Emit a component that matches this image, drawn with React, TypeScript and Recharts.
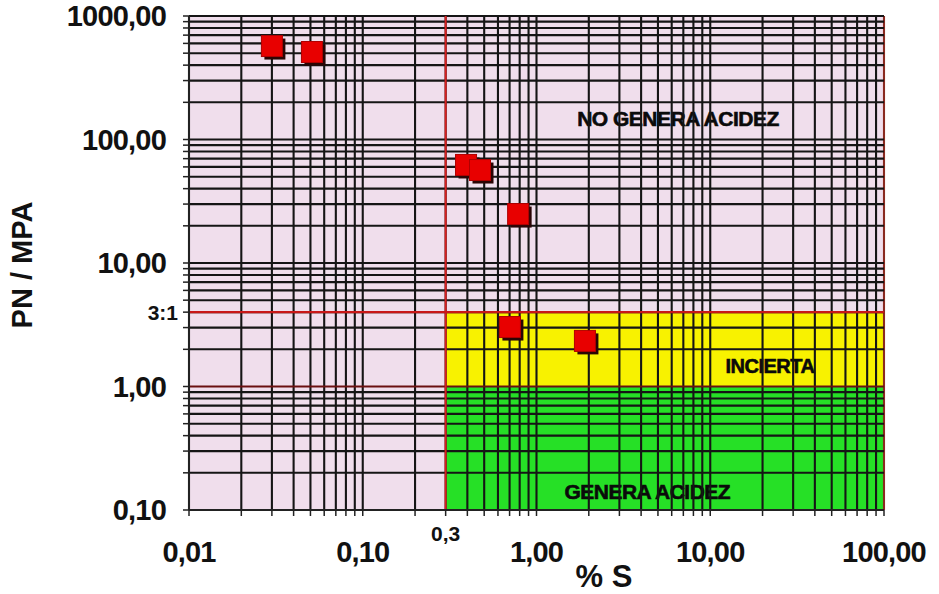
import React from "react";
import {
  ScatterChart,
  Scatter,
  XAxis,
  YAxis,
  ReferenceArea,
  ReferenceLine,
} from "recharts";

// ---- data ----
const sulfurPct = [0.03, 0.051, 0.393, 0.473, 0.784, 0.703, 1.9];
const pnMpaRatio = [571, 511, 62.2, 56.6, 24.9, 3.03, 2.34];

const xDecades = [0.01, 0.1, 1, 10, 100];
const xDecadeLabels = ["0,01", "0,10", "1,00", "10,00", "100,00"];
const yDecades = [0.1, 1, 10, 100, 1000];
const yDecadeLabels = ["0,10", "1,00", "10,00", "100,00", "1000,00"];
const gridMultipliers = [1, 2, 3, 4, 5, 6, 7, 8, 9];

const sThreshold = 0.3;
const sThresholdLabel = "0,3";
const ratioLine = 4; // where the "3:1" line is drawn on the sheet
const ratioLineLabel = "3:1";
const ratioLow = 1;

const regionLabels = ["NO GENERA ACIDEZ", "INCIERTA", "GENERA ACIDEZ"];

const data = sulfurPct.map((s, i) => ({ s, ratio: pnMpaRatio[i] }));

const minorsOf = (decades: number[]) => {
  const out: number[] = [];
  decades.forEach((d, i) => {
    if (i === decades.length - 1) {
      out.push(d);
    } else {
      gridMultipliers.forEach((m) => out.push(Number((d * m).toPrecision(6))));
    }
  });
  return out;
};

const xTicks = minorsOf(xDecades);
const yTicks = minorsOf(yDecades);

const FONT = "'Liberation Sans', Arial, sans-serif";

const XTick = (props: any) => {
  const { x, y, payload } = props;
  const v = payload.value;
  const di = xDecades.findIndex((d) => Math.abs(d - v) < 1e-9);
  if (di >= 0) {
    return (
      <text
        x={x}
        y={y + 34}
        textAnchor="middle"
        dominantBaseline="central"
        fontFamily={FONT}
        fontWeight="bold"
        fontSize={29}
        letterSpacing={-0.8}
        fill="#111"
      >
        {xDecadeLabels[di]}
      </text>
    );
  }
  if (Math.abs(v - sThreshold) < 1e-9) {
    return (
      <text
        x={x}
        y={y + 15}
        textAnchor="middle"
        dominantBaseline="central"
        fontFamily={FONT}
        fontWeight="bold"
        fontSize={21}
        fill="#111"
      >
        {sThresholdLabel}
      </text>
    );
  }
  return null;
};

const YTick = (props: any) => {
  const { x, y, payload } = props;
  const v = payload.value;
  const di = yDecades.findIndex((d) => Math.abs(d - v) < 1e-9);
  if (di >= 0) {
    return (
      <text
        x={x - 15}
        y={y}
        textAnchor="end"
        dominantBaseline="central"
        fontFamily={FONT}
        fontWeight="bold"
        fontSize={29}
        letterSpacing={-0.8}
        fill="#111"
      >
        {yDecadeLabels[di]}
      </text>
    );
  }
  if (Math.abs(v - ratioLine) < 1e-9) {
    return (
      <text
        x={x - 3}
        y={y}
        textAnchor="end"
        dominantBaseline="central"
        fontFamily={FONT}
        fontWeight="bold"
        fontSize={21}
        fill="#111"
      >
        {ratioLineLabel}
      </text>
    );
  }
  return null;
};

const RegionLabel = (props: any) => {
  const { viewBox, text, fx, fy, size } = props;
  if (!viewBox) return null;
  return (
    <text
      x={viewBox.x + viewBox.width * fx}
      y={viewBox.y + viewBox.height * fy}
      textAnchor="middle"
      dominantBaseline="central"
      fontFamily={FONT}
      fontWeight="bold"
      fontSize={size}
      letterSpacing={-0.5}
      fill="#0a0a0a"
      stroke="#0a0a0a"
      strokeWidth={0.6}
    >
      {text}
    </text>
  );
};

const XTitle = (props: any) => {
  const { viewBox } = props;
  if (!viewBox) return null;
  return (
    <text
      x={viewBox.x + viewBox.width * 0.597}
      y={viewBox.y + 66}
      textAnchor="middle"
      dominantBaseline="central"
      fontFamily={FONT}
      fontWeight="bold"
      fontSize={31}
      fill="#111"
    >
      % S
    </text>
  );
};

const YTitle = (props: any) => {
  const { viewBox } = props;
  if (!viewBox) return null;
  const cx = 22;
  const cy = viewBox.y + viewBox.height / 2 + 2;
  return (
    <text
      x={cx}
      y={cy}
      transform={`rotate(-90 ${cx} ${cy})`}
      textAnchor="middle"
      dominantBaseline="central"
      fontFamily={FONT}
      fontWeight="bold"
      fontSize={29}
      fill="#111"
    >
      PN / MPA
    </text>
  );
};

const SquareMarker = (props: any) => {
  const { cx, cy } = props;
  if (cx == null || cy == null) return null;
  const s = 21;
  return (
    <g>
      <rect x={cx - s / 2 + 3} y={cy - s / 2 + 3} width={s} height={s} fill="#2a0505" />
      <rect x={cx - s / 2} y={cy - s / 2} width={s} height={s} fill="#e80000" stroke="#b00000" strokeWidth={1} />
    </g>
  );
};

export default function App() {
  return (
    <div style={{ position: "absolute", left: 0, top: 0, background: "#fff" }}>
      <ScatterChart
        width={939}
        height={594}
        margin={{ top: 16, right: 55, bottom: 0, left: 0 }}
      >
        <XAxis
          type="number"
          dataKey="s"
          scale="log"
          domain={[xDecades[0], xDecades[xDecades.length - 1]]}
          allowDataOverflow
          ticks={xTicks}
          interval={0}
          tick={<XTick />}
          tickSize={6}
          tickLine={{ stroke: "#222", strokeWidth: 1.5 }}
          axisLine={{ stroke: "#222", strokeWidth: 2 }}
          height={84}
          label={<XTitle />}
        />
        <YAxis
          type="number"
          dataKey="ratio"
          scale="log"
          domain={[yDecades[0], yDecades[yDecades.length - 1]]}
          allowDataOverflow
          ticks={yTicks}
          interval={0}
          tick={<YTick />}
          tickSize={6}
          tickLine={{ stroke: "#222", strokeWidth: 1.5 }}
          axisLine={{ stroke: "#222", strokeWidth: 2 }}
          width={189}
          label={<YTitle />}
        />
        <ReferenceArea
          x1={xDecades[0]}
          x2={xDecades[xDecades.length - 1]}
          y1={yDecades[0]}
          y2={yDecades[yDecades.length - 1]}
          fill="#f0deec"
          fillOpacity={1}
          stroke="none"
        />
        <ReferenceArea
          x1={sThreshold}
          x2={xDecades[xDecades.length - 1]}
          y1={ratioLow}
          y2={ratioLine}
          fill="#f8f200"
          fillOpacity={1}
          stroke="none"
        />
        <ReferenceArea
          x1={sThreshold}
          x2={xDecades[xDecades.length - 1]}
          y1={yDecades[0]}
          y2={ratioLow}
          fill="#26e026"
          fillOpacity={1}
          stroke="none"
        />
        {xTicks.map((v) => (
          <ReferenceLine
            key={"vx" + v}
            x={v}
            stroke={v === 100 ? "#8a2a20" : "#151515"}
            strokeWidth={2.1}
          />
        ))}
        {yTicks.map((v) => (
          <ReferenceLine
            key={"hy" + v}
            y={v}
            stroke={v === ratioLow ? "#6a1010" : "#151515"}
            strokeWidth={2.1}
          />
        ))}
        <ReferenceLine x={sThreshold} stroke="#d82020" strokeWidth={2} />
        <ReferenceLine y={ratioLine} stroke="#c81818" strokeWidth={2.2} />
        <ReferenceArea
          x1={sThreshold}
          x2={xDecades[xDecades.length - 1]}
          y1={ratioLine}
          y2={yDecades[yDecades.length - 1]}
          fill="none"
          fillOpacity={0}
          stroke="none"
          label={<RegionLabel text={regionLabels[0]} fx={0.53} fy={0.345} size={21} />}
        />
        <ReferenceArea
          x1={sThreshold}
          x2={xDecades[xDecades.length - 1]}
          y1={ratioLow}
          y2={ratioLine}
          fill="none"
          fillOpacity={0}
          stroke="none"
          label={<RegionLabel text={regionLabels[1]} fx={0.74} fy={0.73} size={20} />}
        />
        <ReferenceArea
          x1={sThreshold}
          x2={xDecades[xDecades.length - 1]}
          y1={yDecades[0]}
          y2={ratioLow}
          fill="none"
          fillOpacity={0}
          stroke="none"
          label={<RegionLabel text={regionLabels[2]} fx={0.46} fy={0.85} size={21} />}
        />
        <Scatter data={data} shape={<SquareMarker />} isAnimationActive={false} />
      </ScatterChart>
    </div>
  );
}
